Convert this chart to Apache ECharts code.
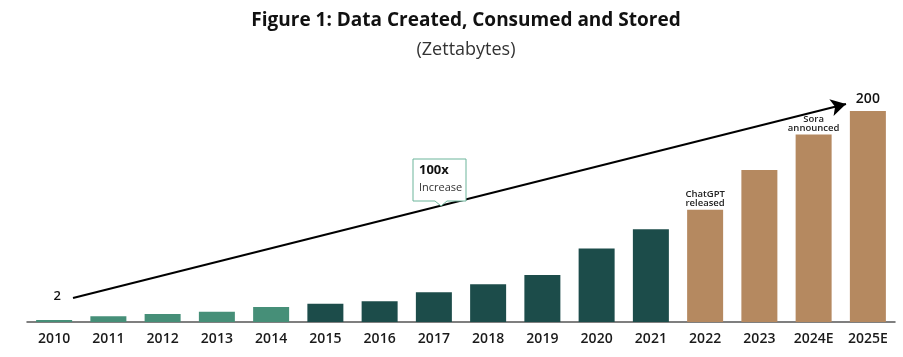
<!DOCTYPE html>
<html>
<head>
<meta charset="utf-8">
<script src="https://cdn.jsdelivr.net/npm/echarts@6/dist/echarts.min.js"></script>
<style>html,body{margin:0;padding:0;background:#fff}#c{width:903px;height:357px}</style>
</head>
<body>
<div id="c"></div>
<script>
const categories = ['2010','2011','2012','2013','2014','2015','2016','2017','2018','2019','2020','2021','2022','2023','2024E','2025E'];
const values = [2, 5.4, 7.6, 9.8, 14.2, 17.4, 19.6, 28.2, 35.8, 44.6, 69.6, 88, 106.3, 144, 177.8, 200];
const notes = ['2','','','','','','','','','','','','ChatGPT\nreleased','','Sora\nannounced','200'];
const phase = ['early','early','early','early','early','mid','mid','mid','mid','mid','mid','mid','ai','ai','ai','ai'];

const phaseColor = {early:'#468f78', mid:'#1c4c4a', ai:'#b58960'};
const FONT = 'Open Sans';

const chart = echarts.init(document.getElementById('c'));

const data = values.map((v,i)=>{
  const item = {value:v, itemStyle:{color:phaseColor[phase[i]]}};
  const n = notes[i];
  if (n) {
    if (i === 0) {
      item.label = {show:true, position:'top', distance:17, offset:[3,0], formatter:n, fontSize:13, fontWeight:600, color:'#111', fontFamily:FONT};
    } else if (i === values.length-1) {
      item.label = {show:true, position:'top', distance:5, formatter:n, fontSize:14, fontWeight:600, color:'#111', fontFamily:FONT};
    } else {
      item.label = {show:true, position:'top', distance:2, formatter:n, fontSize:9.5, fontWeight:600, lineHeight:9, color:'#222', fontFamily:FONT};
    }
  }
  return item;
});

chart.setOption({
  animation:false,
  backgroundColor:'#fff',
  title:[
    {text:'Figure 1: Data Created, Consumed and Stored', left:461, textAlign:'center', top:6,
     textStyle:{fontFamily:FONT, fontSize:19, fontWeight:'bold', color:'#111'}},
    {text:'(Zettabytes)', left:461, textAlign:'center', top:36,
     textStyle:{fontFamily:FONT, fontSize:18, fontWeight:'normal', color:'#333'}}
  ],
  grid:{left:27, right:8, top:111, bottom:35, containLabel:false},
  xAxis:{
    type:'category', data:categories,
    axisLine:{show:true, lineStyle:{color:'#555', width:1.5}},
    axisTick:{show:false},
    axisLabel:{color:'#1a1a1a', fontFamily:FONT, fontSize:14, fontWeight:600, margin:10, interval:0}
  },
  yAxis:{type:'value', min:0, max:200, show:false, splitLine:{show:false}},
  series:[{
    type:'bar', data:data, barWidth:36,
    markLine:{
      silent:true, symbol:['none','arrow'], symbolSize:[13,15],
      lineStyle:{color:'#000', width:2, type:'solid'},
      label:{show:false},
      data:[[{x:73, y:298}, {x:846, y:104}]]
    }
  }],
  graphic:[
    {type:'polygon', z:100,
     shape:{points:[[413,159],[466,159],[466,201],[447,201],[441,206],[435,201],[413,201]]},
     style:{fill:'#fff', stroke:'#6db59b', lineWidth:1}},
    {type:'text', z:101, left:419, top:164,
     style:{text:'100x', fontFamily:FONT, fontSize:13, fontWeight:'bold', fill:'#111'}},
    {type:'text', z:101, left:419, top:182,
     style:{text:'Increase', fontFamily:FONT, fontSize:11, fontWeight:'normal', fill:'#333'}}
  ]
});
</script>
</body>
</html>
